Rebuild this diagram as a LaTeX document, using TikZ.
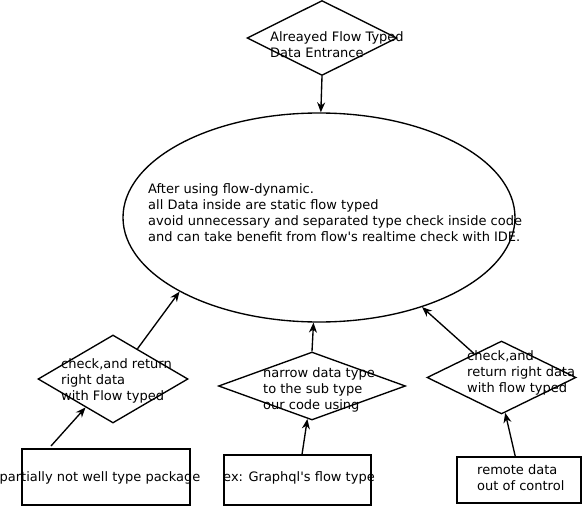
\documentclass[tikz,border=0pt]{standalone}
\usepackage{fontspec}
\setmainfont{DejaVu Sans}
\usetikzlibrary{shapes.geometric,arrows.meta}
\tikzset{
  shp/.style={draw, line width=1.35pt, inner sep=0pt},
  dia/.style={shp, diamond},
  box/.style={shp, rectangle},
  txt/.style={font=\fontsize{13}{16}\selectfont, align=left, inner sep=0pt, anchor=west},
  btxt/.style={font=\fontsize{13}{16}\selectfont, align=left, inner sep=0pt, anchor=center},
  arr/.style={line width=1.35pt, -{Stealth[length=10pt,width=8pt]}}
}
\begin{document}
\begin{tikzpicture}[x=1pt,y=-1pt]
\useasboundingbox (0,0) rectangle (582,506);
% shapes
\node[dia, minimum width=150pt, minimum height=75pt] (D0) at (322,38) {};
\node[shp, ellipse, minimum width=392pt, minimum height=209pt] (E) at (319,217.5) {};
\node[dia, minimum width=150pt, minimum height=88pt] (D1) at (113,379) {};
\node[dia, minimum width=187pt, minimum height=68pt] (D2) at (312,386) {};
\node[dia, minimum width=149pt, minimum height=73pt] (D3) at (501.5,377.5) {};
\node[box, minimum width=168pt, minimum height=56pt] (R1) at (106,477) {};
\node[box, minimum width=147pt, minimum height=50pt] (R2) at (297.5,480) {};
\node[box, minimum width=124pt, minimum height=46pt] (R3) at (519,480) {};
% texts
\node[txt] (t0) at (270,44.5) {Alreayed Flow Typed\\Data Entrance};
\node[txt] (tE) at (148,212.5) {After using flow-dynamic.\\all Data inside are static flow typed\\avoid unnecessary and separated type check inside code\\and can take benefit from flow\textquotesingle s realtime check with IDE.};
\node[txt] (t1) at (61,380.5) {check,and return\\right data\\with Flow typed};
\node[txt] (t2) at (263,390) {narrow data type\\to the sub type\\our code using};
\node[txt] (t3) at (467,373) {check,and\\return right data\\with flow typed};
\node[btxt] (t4) at (100,478) {partially not well type package};
\node[btxt] (t5) at (299,478) {ex: Graphql\textquotesingle s flow type};
\node[txt] (t6) at (477,477.5) {remote data\\out of control};
% connectors
\coordinate (r1a) at (51,446);
\draw[arr] (D0.south) -- (E.89);
\draw[arr] (D1.51) -- (E.208);
\draw[arr] (D2.north) -- (E.267);
\draw[arr] (D3.139) -- (E.319);
\draw[arr] (r1a) -- (D1.226);
\draw[arr] (R2.80) -- (D2.262);
\draw[arr] (R3.99) -- (D3.276);
\end{tikzpicture}
\end{document}
